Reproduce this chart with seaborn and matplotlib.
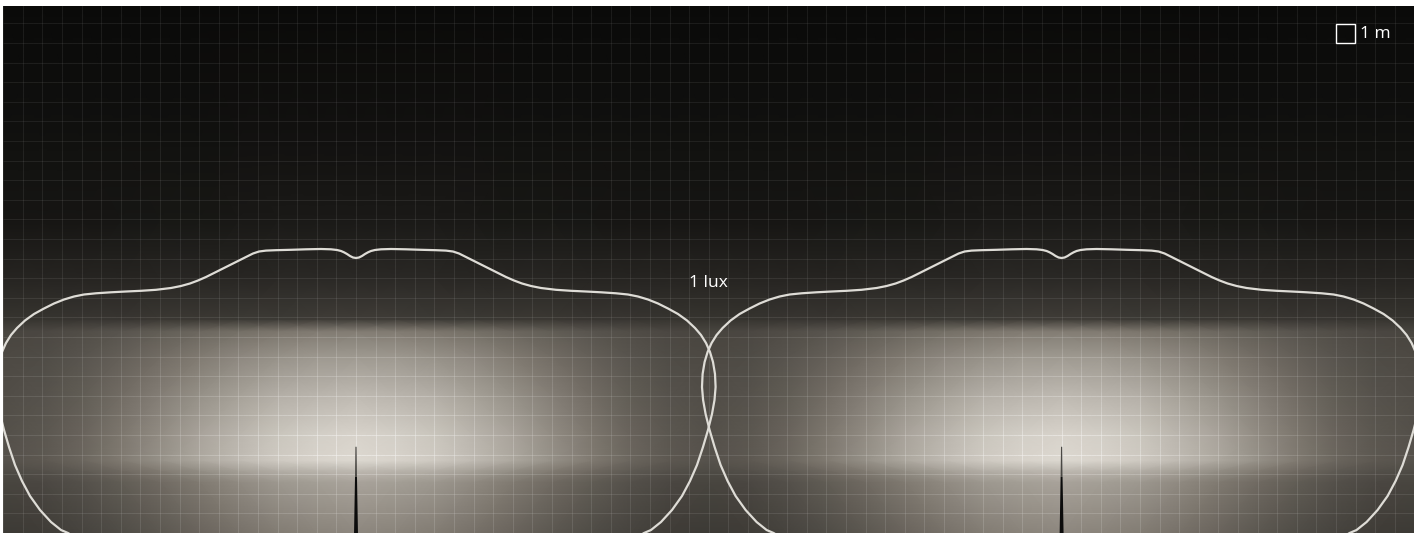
import numpy as np
import pandas as pd
import matplotlib
matplotlib.use("Agg")
import matplotlib.pyplot as plt
import seaborn as sns
from matplotlib.colors import LinearSegmentedColormap
from matplotlib.collections import LineCollection

# Luminaire layout (metres)
LUMINAIRE_X = [0.0, 36.0]
POLE_HEIGHT = 4.4
X_RANGE = (-18.0, 54.0)
Y_RANGE = (0.0, 26.9)

# Right half of the 1 lux isoline around one luminaire (mirrored for the left half)
HALF_X = [0.000, 0.153, 0.306, 0.459, 0.612, 0.765, 0.969, 1.276, 1.786, 2.551,
          3.316, 4.082, 4.592, 4.949, 5.255, 5.612, 6.122, 6.633, 7.143, 7.653,
          8.061, 8.469, 8.929, 9.439, 10.204, 10.969, 11.735, 12.500, 13.265,
          13.878, 14.388, 14.898, 15.408, 15.918, 16.429, 16.888, 17.296, 17.602,
          17.857, 18.061, 18.214, 18.316, 18.347, 18.291, 18.163, 17.959, 17.704,
          17.398, 17.041, 16.633, 16.122, 15.561, 15.051, 14.694, 14.286]
HALF_Y = [14.031, 14.056, 14.133, 14.235, 14.321, 14.388, 14.439, 14.474, 14.490,
          14.474, 14.449, 14.429, 14.408, 14.362, 14.260, 14.082, 13.827, 13.571,
          13.316, 13.061, 12.883, 12.730, 12.602, 12.500, 12.408, 12.357, 12.321,
          12.281, 12.230, 12.168, 12.066, 11.913, 11.709, 11.454, 11.173, 10.842,
          10.459, 10.102, 9.694, 9.235, 8.724, 8.112, 7.449, 6.786, 6.071, 5.255,
          4.388, 3.469, 2.653, 1.888, 1.173, 0.561, 0.153, 0.000, -0.255]

# Illuminance shading: rows at FIELD_Y (m), columns at distance FIELD_DX (m) from a luminaire
FIELD_DX = [0, 2, 4, 6, 8, 10, 12, 14, 16, 18]
FIELD_Y = [0.0, 2.6, 3.2, 3.7, 5.0, 7.0, 9.0, 10.3, 10.9, 13.0, 16.0, 20.0, 26.9]
FIELD = [
    [0.58, 0.56, 0.53, 0.48, 0.42, 0.36, 0.31, 0.27, 0.24, 0.23],
    [0.70, 0.68, 0.65, 0.59, 0.52, 0.45, 0.39, 0.33, 0.29, 0.28],
    [0.80, 0.78, 0.75, 0.69, 0.61, 0.53, 0.45, 0.38, 0.33, 0.31],
    [0.93, 0.91, 0.87, 0.80, 0.72, 0.62, 0.52, 0.43, 0.37, 0.34],
    [0.91, 0.89, 0.85, 0.78, 0.70, 0.60, 0.51, 0.42, 0.36, 0.33],
    [0.80, 0.78, 0.75, 0.69, 0.62, 0.54, 0.46, 0.39, 0.34, 0.32],
    [0.66, 0.65, 0.62, 0.58, 0.52, 0.46, 0.40, 0.35, 0.31, 0.30],
    [0.53, 0.52, 0.50, 0.47, 0.43, 0.39, 0.35, 0.32, 0.29, 0.28],
    [0.24, 0.24, 0.23, 0.23, 0.22, 0.22, 0.21, 0.21, 0.20, 0.20],
    [0.15, 0.15, 0.15, 0.14, 0.14, 0.14, 0.13, 0.13, 0.13, 0.13],
    [0.08, 0.08, 0.08, 0.075, 0.07, 0.07, 0.065, 0.06, 0.06, 0.06],
    [0.045, 0.045, 0.045, 0.045, 0.04, 0.04, 0.04, 0.04, 0.04, 0.04],
    [0.010, 0.010, 0.010, 0.010, 0.010, 0.010, 0.010, 0.010, 0.010, 0.010],
]

LABEL_LUX = "1 lux"
LABEL_SCALE = "1 m"

sns.set_theme(style="dark")
plt.rcParams["font.family"] = ["Open Sans", "DejaVu Sans"]

W, H = 1418, 533
PX_PER_M = 19.6
fig = plt.figure(figsize=(W / 100, H / 100), dpi=100, facecolor="white")
left = (356 + X_RANGE[0] * PX_PER_M) / W
ax = fig.add_axes([left, 0, (X_RANGE[1] - X_RANGE[0]) * PX_PER_M / W,
                   (Y_RANGE[1] - Y_RANGE[0]) * PX_PER_M / H])

cmap = LinearSegmentedColormap.from_list(
    "lux", [(0.0, "#080807"), (0.5, "#7b756c"), (1.0, "#ece8e0")])
field = np.array(FIELD)
lum = np.array(LUMINAIRE_X)


def nearest_dist(x):
    x = np.atleast_1d(x)
    return np.min(np.abs(x[:, None] - lum[None, :]), axis=1)


def field_at(x, y):
    """Bilinear lookup of the shading table at points (x, y)."""
    d = nearest_dist(x)
    rows = np.array([np.interp(d, FIELD_DX, r) for r in field])
    return np.array([np.interp(y[i], FIELD_Y, rows[:, i]) for i in range(len(d))])


# --- illuminance shading, tiled for both luminaires
dx_cols = np.arange(X_RANGE[0], X_RANGE[1] + 1, 2)
col_idx = [FIELD_DX.index(int(round(d))) for d in nearest_dist(dx_cols)]
C = field[:, col_idx]
XX, YY = np.meshgrid(dx_cols, FIELD_Y)
ax.pcolormesh(XX, YY, C, shading="gouraud", cmap=cmap, vmin=0, vmax=1, zorder=1)

# --- 1 m grid, lightened by a roughly constant amount over the shading
step = 0.25
segs, cols = [], []


def add_segments(x0, y0, x1, y1):
    xm, ym = (x0 + x1) / 2, (y0 + y1) / 2
    v = field_at(xm, ym)
    b = cmap(v)[:, :3].mean(axis=1)
    a = np.clip(0.068 / (1.0 - b + 1e-3), 0.04, 0.5)
    for i in range(len(x0)):
        segs.append([(x0[i], y0[i]), (x1[i], y1[i])])
        cols.append((1, 1, 1, a[i]))


ys = np.arange(Y_RANGE[0], Y_RANGE[1] + step, step)
for gx in np.arange(X_RANGE[0], X_RANGE[1] + 1, 1):
    add_segments(np.full(len(ys) - 1, gx), ys[:-1], np.full(len(ys) - 1, gx), ys[1:])
xs = np.arange(X_RANGE[0], X_RANGE[1] + step, step)
for gy in np.arange(0, 27, 1):
    add_segments(xs[:-1], np.full(len(xs) - 1, gy), xs[1:], np.full(len(xs) - 1, gy))
ax.add_collection(LineCollection(segs, colors=cols, linewidths=0.75,
                                 capstyle="butt", zorder=1.5))

ax.grid(False)
ax.tick_params(length=0, labelbottom=False, labelleft=False)
for s in ax.spines.values():
    s.set_visible(False)

# --- isolines
hx = np.array(HALF_X)
hy = np.array(HALF_Y)
ring_x = np.concatenate([-hx[::-1], hx[1:]])
ring_y = np.concatenate([hy[::-1], hy[1:]])
frames = []
for i, lx in enumerate(LUMINAIRE_X):
    frames.append(pd.DataFrame({"x": ring_x + lx, "y": ring_y, "lum": i}))
iso = pd.concat(frames, ignore_index=True)
sns.lineplot(data=iso, x="x", y="y", units="lum", estimator=None, sort=False,
             color="#dedcd6", linewidth=1.6, ax=ax, zorder=3)

# --- poles
for lx in LUMINAIRE_X:
    ax.fill([lx - 0.1, lx + 0.1, lx + 0.05, lx - 0.05],
            [0, 0, POLE_HEIGHT * 0.65, POLE_HEIGHT * 0.65], color="#0c0c0c", zorder=4, lw=0)
    ax.fill([lx - 0.05, lx + 0.05, lx + 0.03, lx - 0.03],
            [POLE_HEIGHT * 0.65, POLE_HEIGHT * 0.65, POLE_HEIGHT, POLE_HEIGHT],
            color="#4a4844", zorder=4, lw=0)

# --- labels
ax.text(np.mean(LUMINAIRE_X), 12.76, LABEL_LUX, color="white", fontsize=12.5,
        ha="center", va="center", zorder=5)
ax.add_patch(plt.Rectangle((50, 25), 0.95, 0.95, fill=False, edgecolor="white", lw=1.0, zorder=5))
ax.text(51.2, 25.45, LABEL_SCALE, color="white", fontsize=12.5, ha="left", va="center", zorder=5)

ax.set_xlim(*X_RANGE)
ax.set_ylim(*Y_RANGE)
ax.set_xlabel("")
ax.set_ylabel("")
fig.savefig("out.png", dpi=100, facecolor="white")
